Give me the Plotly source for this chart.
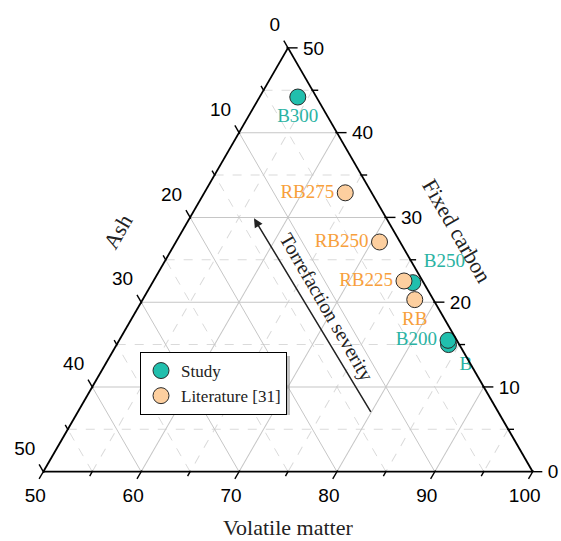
import math
import plotly.graph_objects as go

# ---------------- data ----------------
study_names = ["B", "B200", "B250", "B300"]
study_vm = [83.9, 83.6, 76.6, 53.9]
study_fc = [15.0, 15.5, 22.3, 44.2]
study_ash = [1.1, 0.9, 1.1, 1.9]

lit_names = ["RB", "RB225", "RB250", "RB275"]
lit_vm = [77.8, 75.6, 70.8, 64.4]
lit_fc = [20.3, 22.5, 27.1, 32.9]
lit_ash = [1.9, 1.9, 2.1, 2.7]

ash_ticks = [0, 10, 20, 30, 40, 50]        # left edge
ash_labels = ["0", "10", "20", "30", "40", "50"]
vm_ticks = [50, 60, 70, 80, 90, 100]       # bottom edge
vm_labels = ["50", "60", "70", "80", "90", "100"]
fc_ticks = [0, 10, 20, 30, 40, 50]         # right edge
fc_labels = ["0", "10", "20", "30", "40", "50"]

ash_minor = [5, 15, 25, 35, 45]
vm_minor = [55, 65, 75, 85, 95]
fc_minor = [5, 15, 25, 35, 45]

# ---------------- style / geometry ----------------
TEAL = "#21BFAD"
TEAL_TXT = "#2BB3A3"
PEACH = "#FDCF9F"
ORANGE_TXT = "#F7A03C"
SERIF = "Liberation Serif"
SANS = "Liberation Sans"
TICKFONT = dict(family=SANS, size=19, color="black")

W, H = 561, 541
BLX, BLY, SIDE = 43.3, 471.7, 489.4       # main triangle: bottom-left corner, side (px)
UX = SIDE / 50.0                          # px per unit along the base
UY = UX * math.sqrt(3) / 2                # px per unit of height
K = 5.0                                   # shift used by the helper (label) ternaries


def domain_for(amin, bmin, cmin):
    """paper domain of a ternary whose coordinates coincide with the main one"""
    span = 100 - amin - bmin - cmin
    x0 = BLX + (cmin - 50) * UX + amin * UX / 2
    y0 = BLY - amin * UY
    return dict(x=[x0 / W, (x0 + span * UX) / W], y=[1 - y0 / H, 1 - (y0 - span * UY) / H])


def px_delta(dx, dy):
    """pixel offset -> (dFC, dAsh, dVM)"""
    dfc = -dy / UY
    dvm = (dx - dfc * UX / 2) / UX
    return dfc, -(dfc + dvm), dvm


# edge points (a = fixed carbon, b = ash, c = volatile matter)
def left_pt(v, d=(0, 0, 0)):
    return 50 - v + d[0], v + d[1], 50 + d[2]
def bottom_pt(v, d=(0, 0, 0)):
    return 0 + d[0], 100 - v + d[1], v + d[2]
def right_pt(v, d=(0, 0, 0)):
    return v + d[0], 0 + d[1], 100 - v + d[2]


fig = go.Figure()

# empty trace that registers the minor-grid subplot
fig.add_trace(go.Scatterternary(a=[], b=[], c=[], subplot="ternary",
                                showlegend=False, hoverinfo="skip"))


def add_points(subplot, pts, **kw):
    # helper ternaries use every component shifted by K (sum 100 + 3K)
    fig.add_trace(go.Scatterternary(
        a=[p[0] + K for p in pts], b=[p[1] + K for p in pts], c=[p[2] + K for p in pts],
        subplot=subplot, cliponaxis=False, showlegend=False, hoverinfo="skip", **kw))


def side(subplot, major, minor, labels, fn, direction, tick_len, symbol, angle, lab_off, lab_pos):
    ux, uy = direction
    for vals, L in [(major, tick_len), (minor, tick_len * 0.6)]:
        d = px_delta(ux * L / 2, uy * L / 2)
        add_points(subplot, [fn(v, d) for v in vals], mode="markers",
                   marker=dict(symbol=symbol, angle=angle, size=L, color="black",
                               line=dict(color="black", width=1.4)))
    d = px_delta(*lab_off)
    add_points(subplot, [fn(v, d) for v in major], mode="markers+text", text=labels,
               textposition=lab_pos, textfont=TICKFONT, marker=dict(size=1, opacity=0))


s3 = math.sqrt(3) / 2
side("ternary3", ash_ticks, ash_minor, ash_labels, left_pt, (-0.5, -s3), 7,
     "line-ns", -30, (-6.4, -21.5), "middle left")
side("ternary4", vm_ticks, vm_minor, vm_labels, bottom_pt, (-0.5, s3), 7,
     "line-ns", 30, (-8, 26), "middle center")
side("ternary5", fc_ticks, fc_minor, fc_labels, right_pt, (1, 0), 8,
     "line-ew", 0, (13.4, 2), "middle right")

# data
fig.add_trace(go.Scatterternary(
    a=study_fc, b=study_ash, c=study_vm, subplot="ternary2",
    mode="markers+text", name="Study", text=study_names,
    textposition=["bottom right", "middle left", "top right", "bottom center"],
    textfont=dict(family=SERIF, size=19, color=TEAL_TXT), cliponaxis=False,
    marker=dict(size=16, color=TEAL, line=dict(color="#2a2a2a", width=1)),
))
fig.add_trace(go.Scatterternary(
    a=lit_fc, b=lit_ash, c=lit_vm, subplot="ternary2",
    mode="markers+text", name="Literature [31]", text=lit_names,
    textposition=["bottom center", "middle left", "middle left", "middle left"],
    textfont=dict(family=SERIF, size=19, color=ORANGE_TXT), cliponaxis=False,
    marker=dict(size=16, color=PEACH, line=dict(color="#2a2a2a", width=1)),
))


def ax_minor(mn, vals):
    return dict(min=mn, tickmode="array", tickvals=vals,
                showgrid=True, gridcolor="#dadada", griddash="dash", gridwidth=1,
                showline=False, ticks="", showticklabels=False, title=dict(text=""))


def ax_major(mn, vals):
    return dict(min=mn, tickmode="array", tickvals=vals,
                showgrid=True, gridcolor="#c6c6c6", gridwidth=1,
                showline=True, linecolor="black", linewidth=1.8,
                ticks="", showticklabels=False, title=dict(text=""))


def ax_blank(mn):
    return dict(min=mn, showgrid=False, showline=False, ticks="",
                showticklabels=False, title=dict(text=""))


def blank_ternary(amin, bmin, cmin):
    return dict(sum=100 + 3 * K, bgcolor="rgba(0,0,0,0)", domain=domain_for(amin, bmin, cmin),
                aaxis=ax_blank(amin + K), baxis=ax_blank(bmin + K), caxis=ax_blank(cmin + K))


main_domain = domain_for(0, 0, 50)

fig.update_layout(
    width=W, height=H,
    margin=dict(l=0, r=0, t=0, b=0),
    paper_bgcolor="white",
    ternary=dict(
        sum=100, bgcolor="rgba(0,0,0,0)", domain=main_domain,
        aaxis=ax_minor(0, [50 - v for v in ash_minor]),
        baxis=ax_minor(0, ash_minor),
        caxis=ax_minor(50, vm_minor),
    ),
    ternary2=dict(
        sum=100, bgcolor="rgba(0,0,0,0)", domain=main_domain,
        aaxis=ax_major(0, fc_ticks),
        baxis=ax_major(0, ash_ticks),
        caxis=ax_major(50, vm_ticks),
    ),
    ternary3=blank_ternary(0, -1.5, 48),
    ternary4=blank_ternary(-3.5, 0, 49.5),
    ternary5=blank_ternary(-0.5, -1.5, 50),
    showlegend=True,
    legend=dict(x=140 / W, y=1 - 352 / H, xanchor="left", yanchor="top",
                bgcolor="white", bordercolor="black", borderwidth=1,
                font=dict(family=SERIF, size=17, color="#222"),
                tracegroupgap=0),
    shapes=[dict(type="rect", xref="paper", yref="paper",
                 x0=144 / W, x1=290 / W, y0=1 - 415 / H, y1=1 - 356 / H,
                 fillcolor="rgba(120,120,120,0.45)", line=dict(width=0), layer="above")],
    annotations=[
        dict(text="Volatile matter", xref="paper", yref="paper", x=288 / W, y=1 - 527 / H,
             xanchor="center", yanchor="middle",
             showarrow=False, font=dict(family=SERIF, size=22, color="#222")),
        dict(text="Fixed carbon", xref="paper", yref="paper", x=457 / W, y=1 - 230 / H,
             xanchor="center", yanchor="middle",
             textangle=60, showarrow=False, font=dict(family=SERIF, size=22, color="#222")),
        dict(text="Ash", xref="paper", yref="paper", x=117 / W, y=1 - 232 / H,
             xanchor="center", yanchor="middle",
             textangle=-60, showarrow=False, font=dict(family=SERIF, size=22, color="#222")),
        dict(text="", xref="paper", yref="paper", x=254 / W, y=1 - 218.3 / H,
             ax=117.7, ay=195, axref="pixel", ayref="pixel", showarrow=True,
             arrowhead=2, arrowsize=1.2, arrowwidth=1.5, arrowcolor="#222"),
        dict(text="Torrefaction severity", xref="paper", yref="paper",
             x=326.7 / W, y=1 - 307.3 / H, xanchor="center", yanchor="middle",
             textangle=60, showarrow=False, font=dict(family=SERIF, size=20, color="#222")),
    ],
)

fig.write_html("out.html")
